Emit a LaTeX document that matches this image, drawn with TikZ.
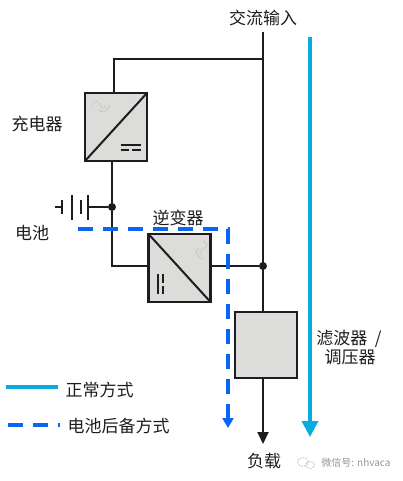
\documentclass[tikz,border=0pt]{standalone}
\usepackage{fontspec}
\setmainfont{Noto Sans CJK SC}
\usetikzlibrary{positioning,arrows.meta,calc}
\definecolor{Ink}{RGB}{30,28,28}
\definecolor{Panel}{RGB}{220,220,219}
\definecolor{Mains}{RGB}{10,172,222}
\definecolor{Backup}{RGB}{10,100,245}
\definecolor{Faint}{RGB}{200,200,200}
\definecolor{Mark}{RGB}{150,150,150}

\begin{document}
\begin{tikzpicture}[x=1pt,y=-1pt,
 box/.style={rectangle,draw=Ink,fill=Panel,line width=2.4pt,minimum width=62pt,minimum height=68pt,inner sep=0pt,outer sep=0pt},
 w/.style={line width=2pt,Ink},
 lab/.style={font=\fontsize{17}{20}\selectfont,text=Ink,inner sep=0pt},
 dot/.style={circle,fill=Ink,inner sep=0pt,minimum size=8pt},
 mains/.style={line width=3.6pt,Mains},
 backup/.style={line width=3.6pt,Backup,dash pattern=on 15pt off 10pt},
 pics/wave/.style={code={
  \draw[Faint,line width=.8pt] (-9,-3) .. controls (-6,-9) and (-3,-7) .. (0,-2) .. controls (2,1) and (4,1) .. (5,-2);
  \draw[Faint,line width=.8pt] (-2,1) .. controls (0,5) and (5,6) .. (9,-3);}},
 pics/dc/.style={code={
  \draw[Ink,line width=2pt] (-10,-2.5) -- (10,-2.5);
  \draw[Ink,line width=2pt] (-10,2.5) -- (-1.5,2.5) (1.5,2.5) -- (10,2.5);}}]
\useasboundingbox (0,0) rectangle (403,481);
\node[box] (charger) at (116,127) {};
\node[box] (inverter) at (179.5,268) {};
\node[box,minimum height=66pt] (filter) at (266,345) {};
\coordinate (acin) at (263,32);
\coordinate (tap) at (263,59);
\coordinate (tapdrop) at (114,59);
\node[dot] (busdot) at (263,266) {};
\node[dot] (batdot) at (112,207) {};
\coordinate (load) at (263,444);
\coordinate (bend) at (112,266);
\coordinate (batplus) at (88,207);
\coordinate (batminus) at (55,207);
\draw[w] (acin) -- (acin |- filter.north);
\draw[w] (tap) -- (tapdrop) -- (tapdrop |- charger.north);
\draw[w] (batdot |- charger.south) -- (batdot) -- (bend) -- (bend -| inverter.west);
\draw[w] (inverter.east |- busdot) -- (busdot);
\draw[w,-{Triangle[length=12pt,width=11pt]}] (load |- filter.south) -- (load);
\draw[w] (batplus) -- (batdot);
\draw[w] (batminus) -- (62,207);
\draw[Ink,line width=2.2pt] (88,195) -- (88,220) (81,200) -- (81,214) (72,195) -- (72,220) (62,200) -- (62,214);
\draw[Ink,line width=2pt] (charger.south west) -- (charger.north east);
\draw[Ink,line width=2pt] (inverter.north west) -- (inverter.south east);
\pic at (101,108) {wave};
\pic[rotate=-90] at (200,250) {wave};
\pic at (130.5,148) {dc};
\pic[rotate=90] at (160.5,284) {dc};
\coordinate (bstart) at (78,229);
\coordinate (bcorner) at (228,229);
\coordinate (bend2) at (228,428);
\draw[backup] (bstart) -- (bcorner) -- ($(bend2)+(0,-9)$);
\draw[line width=3.6pt,Backup,-{Triangle[length=10pt,width=11pt]}] ($(bend2)+(0,-11)$) -- (bend2);
\coordinate (mtop) at (310,37);
\coordinate (mtip) at (310,437);
\draw[mains,-{Triangle[length=16pt,width=16pt]}] (mtop) -- (mtip);
\coordinate (k1a) at (6,387);
\coordinate (k1b) at (58,387);
\coordinate (k2a) at (8,425);
\coordinate (k2b) at (60,425);
\draw[mains] (k1a) -- (k1b);
\draw[backup] (k2a) -- (k2b);
\node[lab] (acinlab) at (263,18) {交流输入};
\node[lab] (chargerlab) at (37,124) {充电器};
\node[lab] (batlab) at (32,233) {电池};
\node[lab] (invlab) at (178,218) {逆变器};
\node[lab] (filterlab) at (349,339) {滤波器\ \ /};
\node[lab] (reglab) at (350,357) {调压器};
\node[lab] (k1lab) at (99.5,390) {正常方式};
\node[lab] (k2lab) at (118.5,426) {电池后备方式};
\node[lab] (loadlab) at (264,461) {负载};
\node[inner sep=0pt,text=Mark,font=\fontsize{10}{12}\selectfont] (mark) at (356,463) {微信号: nhvaca};
\draw[Faint,line width=.8pt,dash pattern=on 2pt off 1pt] (303,462) ellipse (5.5pt and 4.5pt) (310,465) ellipse (4.5pt and 3.5pt);
\end{tikzpicture}
\end{document}
